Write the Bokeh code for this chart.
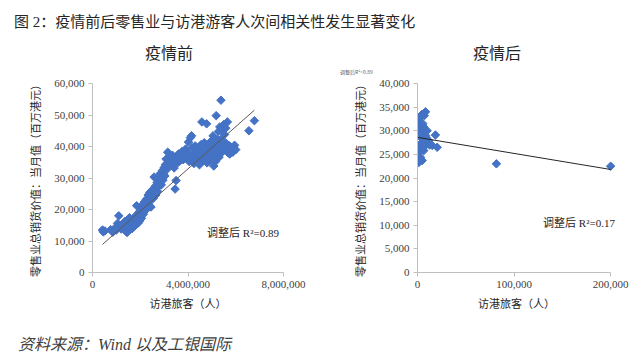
from bokeh.plotting import figure
from bokeh.models import Range1d, FixedTicker, NumeralTickFormatter, Label, Div
from bokeh.layouts import column, row
from bokeh.embed import file_html
from bokeh.resources import INLINE
import math

# ---------------- data ----------------
main_title = "图 2：疫情前后零售业与访港游客人次间相关性发生显著变化"
source_note = "资料来源：Wind 以及工银国际"
sub_pre = "疫情前"
sub_post = "疫情后"
y_title = "零售业总销货价值：当月值（百万港元）"
x_title = "访港旅客（人）"
r2_pre_text = "调整后 R²=0.89"
r2_post_text = "调整后 R²=0.17"
r2_tiny_text = "调整后R²=0.89"

pre_x = [420000, 450000, 520000, 760000, 850000, 950000, 1000000, 1050000, 1100000, 1150000,
         1200000, 1250000, 1300000, 1350000, 1400000, 1450000, 1480000, 1500000,
         1550000, 1600000, 1620000, 1650000, 1700000, 1720000, 1750000, 1780000, 1800000, 1830000,
         1850000, 1870000, 1900000, 1920000, 1950000, 1980000, 2000000, 2020000, 2050000, 2080000,
         2100000, 2130000, 2150000, 2180000, 2200000, 2230000, 2250000, 2280000, 2300000, 2330000,
         2350000, 2380000, 2400000, 2430000, 2450000, 2480000, 2500000,
         2550000, 2580000, 2600000, 2630000, 2650000, 2680000, 2700000, 2730000, 2750000, 2780000,
         2800000, 2830000, 2850000, 2880000, 2900000, 2930000, 2950000, 2980000, 3000000, 3030000,
         3050000, 3080000, 3100000, 3150000, 3180000, 3200000, 3250000, 3300000, 3350000, 3380000,
         3420000, 3460000, 3500000, 3520000,
         3560000, 3600000, 3650000, 3700000, 3750000, 3800000, 3850000, 3900000, 3950000, 4000000,
         4020000, 4050000, 4080000, 4100000, 4150000, 4180000, 4200000,
         4250000, 4280000, 4300000, 4350000, 4380000, 4400000, 4450000, 4480000, 4500000, 4550000,
         4580000, 4600000, 4620000, 4650000, 4680000, 4700000, 4750000, 4780000, 4800000, 4830000,
         4850000, 4880000, 4900000, 4950000, 4980000, 5000000, 5030000, 5050000, 5080000, 5100000,
         5130000, 5150000, 5180000, 5200000, 5230000, 5250000, 5280000, 5300000, 5330000, 5350000,
         5380000, 5400000, 5430000, 5450000, 5480000, 5500000, 5530000, 5550000, 5580000, 5600000,
         5650000, 5680000, 5700000, 5750000, 5800000,
         5880000, 5920000, 5950000, 6000000, 6550000, 6780000]
pre_y = [13500, 12900, 13200, 13600, 12800, 14200, 13500, 15600, 18000, 14800,
         13800, 15200, 14600, 16200, 13100, 12700, 15500, 14300,
         17400, 16200, 14800, 13900, 15800, 17000, 14600, 16500, 15200, 18200,
         21200, 16800, 15600, 17800, 19200, 16400, 18600, 20300, 17200, 19800,
         21600, 18500, 20800, 22400, 19600, 21000, 23200, 20200, 22100, 24600,
         21600, 23800, 25400, 22800, 20800, 24300, 26200,
         23600, 30300, 25800, 27400, 24600, 26800, 28500, 25700, 27200, 29600,
         30800, 28000, 31500, 27800, 30200, 32400, 29300, 31200, 33300, 30600,
         34200, 36000, 32600, 38200, 35000, 33800, 36800, 34600, 37200, 35600,
         33200, 26500, 29200, 36200,
         34800, 37600, 35400, 36400, 38400, 35800, 37000, 39200, 36200, 38000,
         41400, 35200, 37200, 42800, 43400, 39600, 36000,
         34600, 37800, 40200, 35800, 38600, 36800, 39800, 34200, 37200, 40600,
         47800, 36200, 38400, 35600, 41200, 37800, 39200, 47200, 34800, 36800,
         40000, 38200, 35400, 41600, 37200, 39400, 36000, 43400, 33800, 38600,
         40800, 35200, 49800, 37600, 42200, 39200, 44800, 36600, 46200, 40600,
         54700, 42400, 38200, 45200, 41200, 47000, 43800, 39400, 45800, 41000,
         47800, 38000, 40400, 37600, 39800,
         38200, 39800, 40400, 39000, 45000, 48200]

post_x = [8300, 4800, 1000, 3000, 6500, 10000, 4000, 500, 8300, 18600, 4800, 11700, 3000, 8300,
          20400, 15200, 1400, 6500, 500, 3000, 1400, 4800, 300, 2000, 5500, 7000, 9000, 12500,
          6000, 2500, 81700, 200000]
post_y = [34000, 33500, 32300, 31100, 30800, 30000, 29700, 30500, 29000, 29100, 28300, 27900,
          27200, 26900, 26500, 26900, 26200, 25800, 25100, 24400, 23300, 23700, 23800, 32800,
          31500, 33200, 28600, 27000, 27800, 29300, 23000, 22500]

# trend lines: slope, intercept
trend_pre = [0.0067, 6100]
trend_post = [-0.034, 28600]

pre_xticks = [0, 4000000, 8000000]
pre_yticks = [0, 10000, 20000, 30000, 40000, 50000, 60000]
post_xticks = [0, 100000, 200000]
post_yticks = [0, 5000, 10000, 15000, 20000, 25000, 30000, 35000, 40000]

# ---------------- styling ----------------
CJK = "Noto Sans CJK SC"
SERIF = "Liberation Serif"
MIX = "Liberation Serif, Noto Sans CJK SC"
BLUE = "#4472C4"
AXIS = "#BFBFBF"
TXT = "#404040"


def make_fig(w, h, bl, br, xr, yr, xt, yt):
    p = figure(width=w, height=h, output_backend="svg", toolbar_location=None,
               x_range=Range1d(*xr), y_range=Range1d(*yr), title=None,
               min_border_left=bl, min_border_right=br, min_border_top=8, min_border_bottom=44)
    p.outline_line_color = None
    p.grid.visible = False
    p.background_fill_color = "white"
    p.border_fill_color = "white"
    for ax, ticks in ((p.xaxis, xt), (p.yaxis, yt)):
        ax.ticker = FixedTicker(ticks=ticks)
        ax.formatter = NumeralTickFormatter(format="0,0")
        ax.axis_line_color = AXIS
        ax.major_tick_line_color = AXIS
        ax.minor_tick_line_color = None
        ax.major_tick_in = 0
        ax.major_tick_out = 4
        ax.major_label_text_font = SERIF
        ax.major_label_text_font_size = "11px"
        ax.major_label_text_color = TXT
        ax.major_label_standoff = 4
        ax.axis_label_text_font = CJK
        ax.axis_label_text_font_size = "11px"
        ax.axis_label_text_font_style = "normal"
        ax.axis_label_text_color = "#262626"
    p.xaxis.axis_label = x_title
    p.yaxis.axis_label = y_title
    p.xaxis.axis_label_standoff = 4
    p.yaxis.axis_label_standoff = 8
    return p


p1 = make_fig(335, 241, 92, 52, (0, 8000000), (0, 60000), pre_xticks, pre_yticks)
p1.scatter(pre_x, pre_y, marker="square", size=6, angle=math.pi / 4,
           fill_color=BLUE, line_color=BLUE)
x0, x1 = min(pre_x), max(pre_x)
p1.line([x0, x1], [trend_pre[0] * x0 + trend_pre[1], trend_pre[0] * x1 + trend_pre[1]],
        line_color="#595959", line_width=1)
p1.add_layout(Label(x=4800000, y=12400, text=r2_pre_text, text_font=MIX, text_font_size="11px",
                    text_color="#262626", text_baseline="middle"))

p2 = make_fig(297, 241, 82, 17, (0, 205000), (0, 40000), post_xticks, post_yticks)
p2.xaxis.bounds = (0, 200000)
p2.scatter(post_x, post_y, marker="square", size=6, angle=math.pi / 4,
           fill_color=BLUE, line_color=BLUE)
x0, x1 = min(post_x), max(post_x)
p2.line([x0, x1], [trend_post[0] * x0 + trend_post[1], trend_post[0] * x1 + trend_post[1]],
        line_color="#262626", line_width=1)
p2.add_layout(Label(x=130000, y=10400, text=r2_post_text, text_font=MIX, text_font_size="11px",
                    text_color="#262626", text_baseline="middle"))


def span(txt, left, top, size, extra=""):
    return (f'<div style="position:absolute; left:{left}px; top:{top}px; white-space:nowrap; '
            f'line-height:20px; font-size:{size}px; '
            f'font-family:\'Liberation Serif\', \'Noto Sans CJK SC\'; {extra}">{txt}</div>')


head_html = ('<div style="position:relative; width:632px; height:75px;">'
             + span(main_title, 14, 12, 15, "color:#262626;")
             + span(sub_pre, 145, 42, 16, "color:#262626; font-family:'Noto Sans CJK SC';")
             + span(sub_post, 473, 42, 16, "color:#262626; font-family:'Noto Sans CJK SC';")
             + span(r2_tiny_text, 340, 62, 5, "color:#595959; font-family:'Noto Sans CJK SC';")
             + '</div>')
foot_html = ('<div style="position:relative; width:632px; height:40px;">'
             + span(source_note, 18, 19, 16, "font-style:italic; color:#404040;")
             + '</div>')

title_div = Div(width=632, height=75, margin=(0, 0, 0, 0), text=head_html)
foot_div = Div(width=632, height=40, margin=(0, 0, 0, 0), text=foot_html)

layout = column(title_div, row(p1, p2), foot_div)
open("out.html", "w").write(file_html(layout, INLINE))
